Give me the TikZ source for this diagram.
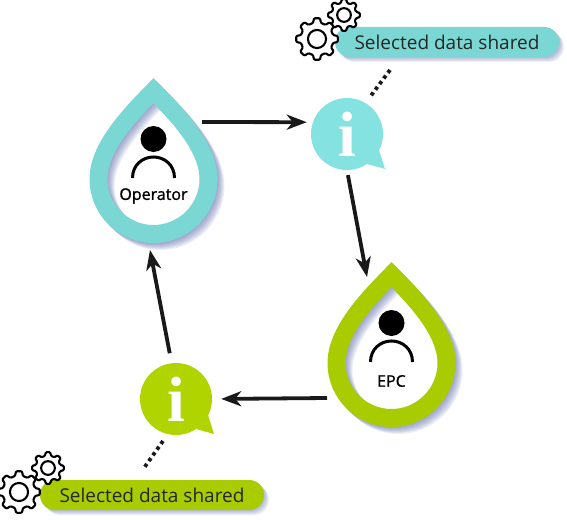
\documentclass[tikz,border=0pt]{standalone}
\usepackage{xcolor}
\usepackage{fontspec}
\setmainfont{Open Sans}
\newfontfamily\infofont{Liberation Serif}
\newfontfamily\rolefont[FakeBold=1.2]{Open Sans}
\usepackage{tikz}
\usetikzlibrary{arrows.meta}

\definecolor{tealdrop}{HTML}{7AD7D3}
\definecolor{tealinfo}{HTML}{84E3E0}
\definecolor{greendrop}{HTML}{A8CC00}
\definecolor{greeninfo}{HTML}{B0D400}
\definecolor{softshadow}{HTML}{5A68A8}

\newcommand{\dropPath}[2]{(0,-#2) .. controls ({-.34*#1},{-#2+.36*#1}) and (-#1,{-.62*#1}) .. (-#1,0)
  .. controls (-#1,{.55*#1}) and ({-.55*#1},#1) .. (0,#1)
  .. controls ({.55*#1},#1) and (#1,{.55*#1}) .. (#1,0)
  .. controls (#1,{-.62*#1}) and ({.34*#1},{-#2+.36*#1}) .. (0,-#2) -- cycle}

\tikzset{
  flow/.style={line width=3.8pt, color=black!90, -{Stealth[length=20pt,width=15pt,inset=6pt]}},
  dotline/.style={line width=3.8pt, color=black!90, dash pattern=on 3.5pt off 3.5pt},
  pill/.style={rounded corners=14.9pt, minimum width=224pt, minimum height=30pt, inner sep=0pt, font=\fontsize{19}{22}\selectfont, text=black!85},
  bubble/.style={circle, minimum size=72pt, inner sep=0pt, text=white, font=\infofont\bfseries\fontsize{64}{64}\selectfont},
  role/.style={inner sep=0pt, font=\rolefont\fontsize{16}{18}\selectfont},
  pics/droplet/.style={code={
    \foreach \s in {1,...,7}
      \fill[softshadow, opacity=.11, even odd rule] [shift={(\s,\s)}] \dropPath{64}{101} \dropPath{46}{76};
    \fill[#1, even odd rule] \dropPath{64}{101} \dropPath{46}{76};
    \fill[black] (0,-40) circle (13);
    \draw[line width=3pt, black] (-21,-1) .. controls (-21,-14) and (-11,-22) .. (0,-22) .. controls (11,-22) and (21,-14) .. (21,-1);
  }},
  pics/gear/.style 2 args={code={
    \draw[line width=2.1pt, fill=white, rounded corners=1pt, line join=round] (-14:#2)
      \foreach \a in {0,45,...,315} { -- ({\a-14}:#2) -- ({\a-8}:#1) -- ({\a+8}:#1) -- ({\a+14}:#2) } -- cycle;
    \draw[line width=2.1pt, fill=white] (0,0) circle ({.55*#2});
  }},
}

\begin{document}
\begin{tikzpicture}[x=1pt,y=-1pt]
\useasboundingbox (0,0) rectangle (567,519);

\pic at (153.5,179) {droplet=tealdrop};
\pic at (391.5,363) {droplet=greendrop};
\node[role] (operator) at (153.5,196) {Operator};
\node[role] (epc) at (391.5,381) {EPC};

\node[bubble, fill=tealinfo] (info1) at (347,134) {i};
\node[bubble, fill=greeninfo] (info2) at (176,399) {i};
\fill[tealinfo] ([shift={(32,16)}]info1.center) -- ([shift={(38,35)}]info1.center) -- ([shift={(20,30)}]info1.center) -- cycle;
\fill[greeninfo] ([shift={(32,16)}]info2.center) -- ([shift={(38,35)}]info2.center) -- ([shift={(20,30)}]info2.center) -- cycle;

% soft shadows under the labels
\foreach \s in {1,...,5} {
  \fill[softshadow, opacity=.11, rounded corners=15pt] ({335+\s},{27+\s}) rectangle ({559+\s},{57+\s});
  \fill[softshadow, opacity=.11, rounded corners=15pt] ({40+\s},{480+\s}) rectangle ({264+\s},{510+\s});
}
\node[pill, fill=tealdrop] (shared1) at (447,42) {Selected data shared};
\node[pill, fill=greendrop] (shared2) at (152,495) {Selected data shared};

\pic at (344,15) {gear={16}{12.5}};
\pic at (317,39) {gear={21}{16.5}};
\pic at (48,468) {gear={16}{12.5}};
\pic at (19,492) {gear={21}{16.5}};

\coordinate (opout) at (202,122);
\coordinate (epcin) at (367,277);
\coordinate (epcout) at (327,398);
\coordinate (opin) at (150,250);
\coordinate (dots1a) at (390,70);
\coordinate (dots1b) at (370,97);
\coordinate (dots2a) at (163,441);
\coordinate (dots2b) at (144,468);

\draw[flow, shorten >=6pt] (opout) -- (info1.161);
\draw[flow, shorten <=5pt] (info1.-90) -- (epcin);
\draw[flow, shorten >=9pt] (epcout) -- (info2.0);
\draw[flow, shorten <=10pt] (info2.97) -- (opin);
\draw[dotline] (dots1a) -- (dots1b);
\draw[dotline] (dots2a) -- (dots2b);
\end{tikzpicture}
\end{document}
